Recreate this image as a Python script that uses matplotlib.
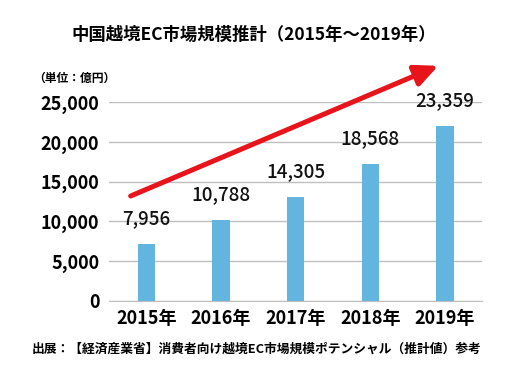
import matplotlib.pyplot as plt

plt.rcParams['font.family'] = ['Noto Sans CJK JP', 'DejaVu Sans']

years = ['2015年', '2016年', '2017年', '2018年', '2019年']
# bar heights as drawn in the picture (億円)
bar_heights = [7100, 10160, 13020, 17220, 22040]
# value labels printed above the bars
value_labels = ['7,956', '10,788', '14,305', '18,568', '23,359']
yticks = [0, 5000, 10000, 15000, 20000, 25000]

bar_color = '#62b5df'
grid_color = '#bfbfbf'
arrow_color = '#e8141c'

fig = plt.figure(figsize=(5.26, 3.85), dpi=100)
ax = fig.add_axes([0.2072, 0.219, 0.7097, 0.5153])

x = range(len(years))
ax.bar(x, bar_heights, width=0.23, color=bar_color, zorder=2)

for xi, h, lab in zip(x, bar_heights, value_labels):
    ax.text(xi, h + 3200, lab, ha='center', va='center', fontsize=13.5,
            fontweight='medium', color='#111111', zorder=3)

ax.set_xlim(-0.5, len(years) - 0.5)
ax.set_ylim(0, 25000)
ax.set_yticks(yticks)
ax.set_yticklabels([f'{v:,}' for v in yticks], fontsize=13, fontweight='bold')
ax.set_xticks(list(x))
ax.set_xticklabels(years, fontsize=13, fontweight='bold')
ax.tick_params(axis='y', length=0, pad=7)
ax.tick_params(axis='x', length=0, pad=6)
ax.grid(axis='y', color=grid_color, linewidth=1, zorder=1)
for side in ['top', 'right', 'left']:
    ax.spines[side].set_visible(False)
ax.spines['bottom'].set_color(grid_color)

# red trend arrow
ax.annotate('', xy=(3.91, 29600), xytext=(-0.21, 13190),
            arrowprops=dict(arrowstyle='-|>,head_length=1.4,head_width=0.65',
                            color=arrow_color, lw=3.6, shrinkA=0, shrinkB=0),
            annotation_clip=False, zorder=4)

fig.text(0.483, 1 - 35 / 385, '中国越境EC市場規模推計（2015年～2019年）',
         ha='center', va='center', fontsize=12.5, fontweight='bold')
fig.text(33 / 526, 1 - 78 / 385, '（単位：億円）', ha='left', va='center',
         fontsize=8.5, fontweight='bold')
fig.text(0.487, 1 - 349 / 385,
         '出展：【経済産業省】消費者向け越境EC市場規模ポテンシャル（推計値）参考',
         ha='center', va='center', fontsize=9.2, fontweight='bold')

fig.savefig('out.png', dpi=100)
